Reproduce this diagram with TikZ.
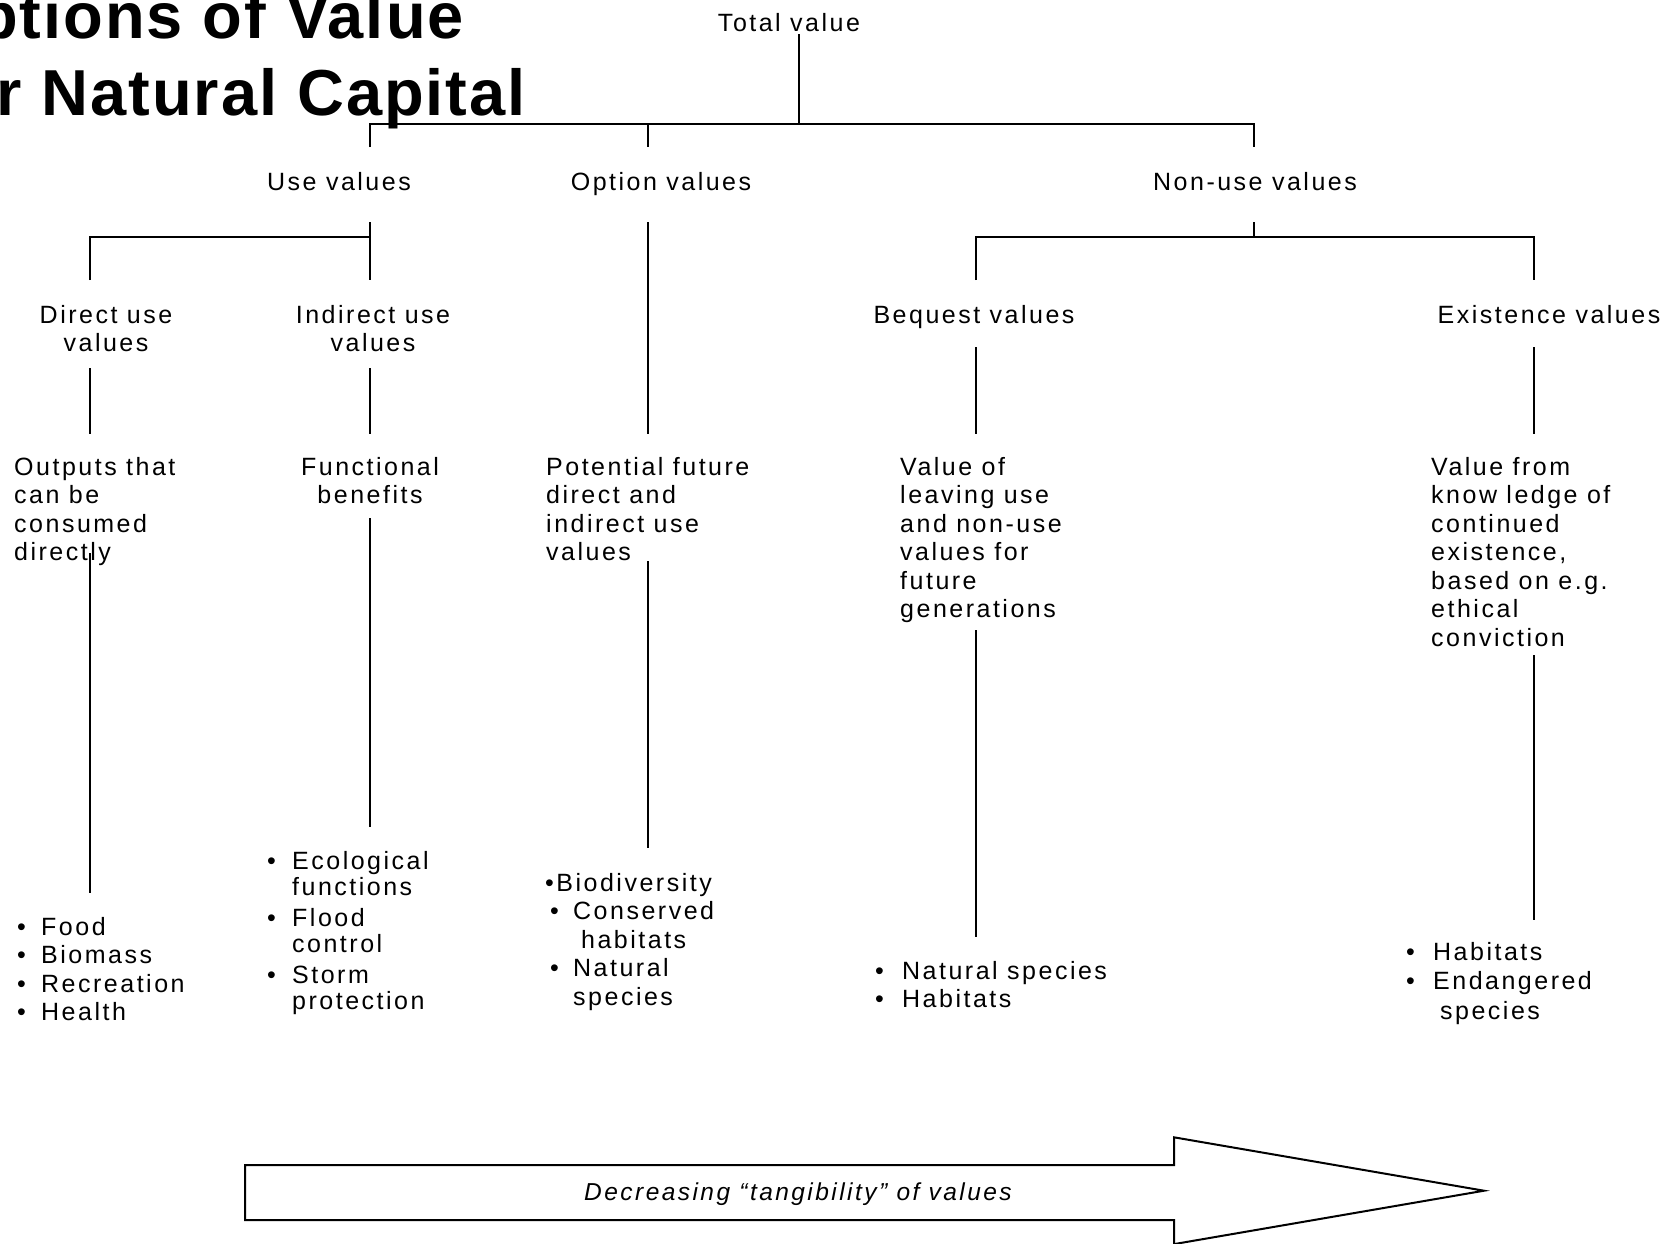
\documentclass[tikz,border=0pt]{standalone}
\usepackage{fontspec}
\setmainfont[LetterSpace=10]{Liberation Sans}
\newfontfamily\titlefont[LetterSpace=3]{Liberation Sans}
\newcommand{\bul}[1][24pt]{\makebox[#1][l]{\textbullet}}

\begin{document}
\begin{tikzpicture}[
    x=1pt, y=-1pt,
    every node/.style={inner sep=0pt, font=\fontsize{25}{28.5}\selectfont},
    level/.style={anchor=base},
    para/.style={align=left, anchor=north west},
    cpara/.style={align=center, anchor=north},
    stem/.style={line width=2pt}
]
\useasboundingbox (0,0) rectangle (1678,1243);
\clip (0,0) rectangle (1678,1243);

% Title (cut off at the page edge)
\node[anchor=base east, font=\titlefont\bfseries\fontsize{65}{77}\selectfont] (title1) at (464,38) {Options of Value};
\node[anchor=base east, font=\titlefont\bfseries\fontsize{65}{77}\selectfont] (title2) at (526,115) {for Natural Capital};

% Value levels
\node[level] (total)  at (789,31)   {Total value};
\node[level] (use)    at (339,190)  {Use values};
\node[level] (option) at (661,190)  {Option values};
\node[level] (nonuse) at (1255,190) {Non-use values};

\node[cpara] (direct)   at (106,305) {Direct use\\values};
\node[cpara] (indirect) at (373,305) {Indirect use\\values};
\node[level] (bequest)  at (974,323) {Bequest values};
\node[level] (exist)    at (1549,323) {Existence values};

% Descriptions
\node[para]  (outputs)    at (14,457)   {Outputs that\\can be\\consumed\\directly};
\node[cpara] (functional) at (370,457)  {Functional\\benefits};
\node[para]  (potential)  at (546,457)  {Potential future\\direct and\\indirect use\\values};
\node[para]  (leaving)    at (900,457)  {Value of\\leaving use\\and non-use\\values for\\future\\generations};
\node[para]  (knowledge)  at (1431,457) {Value from\\know ledge of\\continued\\existence,\\based on e.g.\\ethical\\conviction};

% Examples
\node[para] (ex1) at (17,917) {\bul Food\\\bul Biomass\\\bul Recreation\\\bul Health};
\node[para, font=\fontsize{25}{26}\selectfont] (ex2) at (267,851)
  {\bul[25pt]Ecological\\\hspace{25pt}functions\\[5pt]\bul[25pt]Flood\\\hspace{25pt}control\\[5pt]\bul[25pt]Storm\\\hspace{25pt}protection};
\node[para] (ex3) at (545,873)
  {\textbullet Biodiversity\\\hspace{5pt}\bul[23pt]Conserved\\\hspace{36pt}habitats\\\hspace{5pt}\bul[23pt]Natural\\\hspace{28pt}species};
\node[para] (ex4) at (875,961) {\bul[27pt]Natural species\\\bul[27pt]Habitats};
\node[para, font=\fontsize{25}{29.5}\selectfont] (ex5) at (1406,942)
  {\bul[27pt]Habitats\\\bul[27pt]Endangered\\\hspace{34pt}species};

% Tree lines
\coordinate (tv)   at (799,34);
\coordinate (bus)  at (799,124);
\coordinate (busl) at (370,147);
\coordinate (busr) at (1254,147);
\coordinate (buso) at (648,124);
\coordinate (buso2) at (648,147);
\draw[stem] (tv) -- (bus);
\draw[stem] (busl) |- (busr |- bus) -- (busr);
\draw[stem] (buso) -- (buso2);

\coordinate (use1) at (370,222);
\coordinate (use2) at (370,280);
\coordinate (use3) at (90,280);
\draw[stem] (use1) -- (use2);
\draw[stem] (use3) |- (370,237);

\coordinate (non1) at (1254,222);
\coordinate (non2) at (1254,237);
\coordinate (non3) at (976,280);
\coordinate (non4) at (1534,280);
\draw[stem] (non1) -- (non2);
\draw[stem] (non3) |- (non4 |- non2) -- (non4);

\coordinate (opt1) at (648,222);
\coordinate (opt2) at (648,434);
\draw[stem] (opt1) -- (opt2);

\foreach \n/\x/\ya/\yb in {a/90/368/434, b/370/368/434, c/976/347/434, d/1534/347/434,
    e/90/553/893, f/370/518/827, g/648/561/848, h/976/630/937, i/1534/655/920} {
  \coordinate (\n-top) at (\x,\ya);
  \coordinate (\n-bot) at (\x,\yb);
  \draw[stem] (\n-top) -- (\n-bot);
}

% Tangibility arrow
\draw[stem, line join=miter] (245,1165) -- (1174,1165) -- (1174,1137.3) -- (1484,1190.7)
  -- (1174,1244.1) -- (1174,1220) -- (245,1220) -- cycle;
\node[level, font=\fontsize{24.5}{28}\selectfont\itshape] (tangible) at (798,1200)
  {Decreasing “tangibility” of values};

\end{tikzpicture}
\end{document}
